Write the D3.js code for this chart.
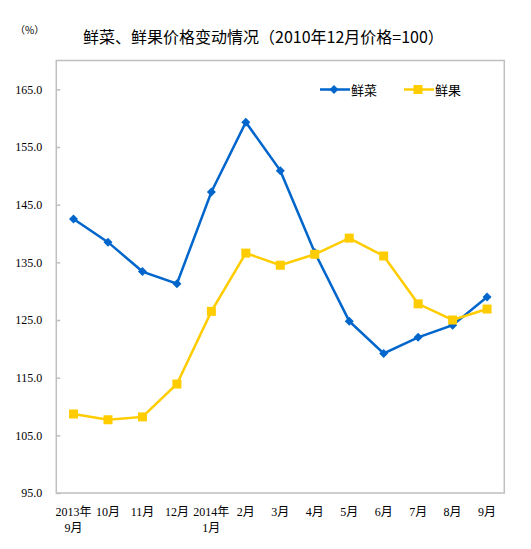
<!DOCTYPE html>
<html lang="zh">
    <head>
        <meta charset="utf-8">
        <title>鲜菜、鲜果价格变动情况</title>
        <script src="https://d3js.org/d3.v7.min.js"></script>
        <style type="text/css">
            body{ margin:0; background:#fff; }
            svg{ display:block; }
        </style>
    </head>
    <body>
        <svg width="531" height="549"></svg>
        <script type="text/javascript">

            // months, Sept 2013 – Sept 2014 (two-line labels)
            const months = [
                ["2013年", "9月"], ["10月"], ["11月"], ["12月"], ["2014年", "1月"],
                ["2月"], ["3月"], ["4月"], ["5月"], ["6月"], ["7月"], ["8月"], ["9月"]
            ];
            const vegetables = [142.5, 138.5, 133.4, 131.3, 147.2, 159.3, 150.9, 136.7, 124.8, 119.2, 122.0, 124.1, 129.0];
            const fruits = [108.7, 107.7, 108.2, 113.9, 126.5, 136.6, 134.5, 136.4, 139.2, 136.1, 127.8, 125.0, 126.9];
            const yTicks = [95, 105, 115, 125, 135, 145, 155, 165];

            const series = [
                {name: "鲜菜", values: vegetables, color: "#0066CC", marker: "diamond"},
                {name: "鲜果", values: fruits, color: "#FFCC00", marker: "square"}
            ];

            const svg = d3.select("svg");
            const plotLeft = 56.3, plotRight = 504.3, plotTop = 60.5, plotBottom = 493;

            const x = d3.scaleBand()
                        .domain(d3.range(months.length))
                        .range([plotLeft, plotRight]);
            const y = d3.scaleLinear()
                        .domain([95, 170])
                        .range([plotBottom, plotTop]);

            // plot frame
            svg.append("rect")
                .attr("x", plotLeft).attr("y", plotTop)
                .attr("width", plotRight - plotLeft).attr("height", plotBottom - plotTop)
                .style("fill", "none")
                .style("stroke", "#BFBFBF")
                .style("stroke-width", 1.5);

            // y axis (ticks point inward)
            const yAxis = svg.append("g")
                            .attr("transform", `translate(${plotLeft},0)`)
                            .call(d3.axisLeft(y).tickValues(yTicks).tickSize(-4).tickPadding(14).tickFormat(d3.format(".1f")));
            yAxis.select(".domain").remove();
            yAxis.selectAll("line").style("stroke", "#BFBFBF").style("stroke-width", 1.5);
            yAxis.selectAll("text")
                .style("font-family", "'Liberation Serif', serif")
                .style("font-size", "12px")
                .style("fill", "#000");

            // x labels
            const xLabels = svg.selectAll("text.xlab")
                                .data(months)
                                .join("text")
                                .attr("class", "xlab")
                                .attr("x", (d, i) => x(i) + x.bandwidth() / 2)
                                .attr("y", 515.5)
                                .attr("text-anchor", "middle")
                                .style("font-family", "'Liberation Serif', 'Noto Sans CJK SC', serif")
                                .style("font-size", "12px");
            xLabels.selectAll("tspan")
                .data(d => d)
                .join("tspan")
                .attr("x", function() { return d3.select(this.parentNode).attr("x"); })
                .attr("dy", (d, i) => i === 0 ? 0 : 16)
                .text(d => d);

            const line = d3.line()
                            .x((d, i) => x(i) + x.bandwidth() / 2)
                            .y(d => y(d));

            function drawMarker(g, type, color) {
                if (type === "diamond") {
                    g.append("path").attr("d", "M0,-4.5L4.5,0L0,4.5L-4.5,0Z").style("fill", color);
                } else {
                    g.append("rect").attr("x", -4.5).attr("y", -4.5).attr("width", 9).attr("height", 9).style("fill", color);
                }
            }

            series.forEach(s => {
                svg.append("path")
                    .datum(s.values)
                    .attr("d", line)
                    .style("fill", "none")
                    .style("stroke", s.color)
                    .style("stroke-width", 2.5);

                svg.selectAll(null)
                    .data(s.values)
                    .join("g")
                    .attr("transform", (d, i) => `translate(${x(i) + x.bandwidth() / 2},${y(d)})`)
                    .each(function() { drawMarker(d3.select(this), s.marker, s.color); });
            });

            // legend
            const legend = svg.selectAll("g.legend")
                                .data(series)
                                .join("g")
                                .attr("class", "legend")
                                .attr("transform", (d, i) => `translate(${320 + i * 84},89.5)`);
            legend.append("line")
                .attr("x1", 0).attr("x2", 30)
                .style("stroke", d => d.color)
                .style("stroke-width", 2.5);
            legend.each(function(d) {
                const g = d3.select(this).append("g").attr("transform", "translate(14,0)");
                drawMarker(g, d.marker, d.color);
            });
            legend.append("text")
                .attr("x", 31).attr("y", 5)
                .text(d => d.name)
                .style("font-family", "'Noto Sans CJK SC', sans-serif")
                .style("font-size", "13px");

            // title and unit
            svg.append("text")
                .attr("x", 83).attr("y", 43)
                .text("鲜菜、鲜果价格变动情况（2010年12月价格=100）")
                .style("font-family", "'Noto Sans CJK SC', sans-serif")
                .style("font-size", "16px");
            svg.append("text")
                .attr("x", 15).attr("y", 34)
                .text("（%）")
                .style("font-family", "'Noto Sans CJK SC', sans-serif")
                .style("font-size", "10px");

        </script>
    </body>
</html>
